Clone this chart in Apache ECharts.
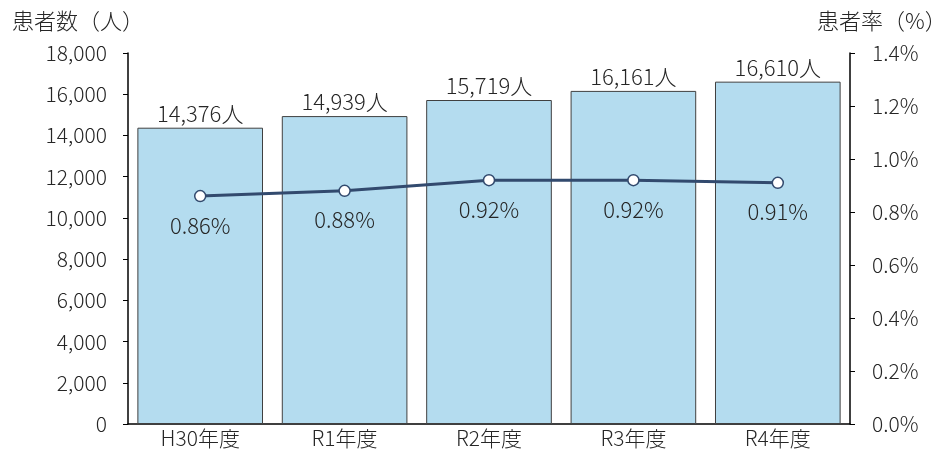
<!DOCTYPE html>
<html>
<head>
<meta charset="utf-8">
<script src="https://cdn.jsdelivr.net/npm/echarts@6/dist/echarts.min.js"></script>
<style>
  html, body { margin: 0; padding: 0; background: #fff; }
  #main { width: 949px; height: 454px; }
</style>
</head>
<body>
<div id="main"></div>
<script>
// 年度ごとの患者数と患者率
var categories = ['H30年度', 'R1年度', 'R2年度', 'R3年度', 'R4年度']
var patients = [14376, 14939, 15719, 16161, 16610]
var rates = [0.86, 0.88, 0.92, 0.92, 0.91]

var font = '"Noto Sans CJK JP", "Noto Sans", sans-serif'
var textColor = '#262626'
var fs = 21
var fw = 300

var myChart = echarts.init(document.getElementById('main'))
myChart.setOption({
  animation: false,
  textStyle: { fontFamily: font },
  grid: { left: 128, right: 99, top: 53, bottom: 30, outerBoundsMode: 'none', containLabel: false },
  xAxis: {
    type: 'category',
    data: categories,
    axisLine: { lineStyle: { color: '#000', width: 1.5 } },
    axisTick: { show: false },
    axisLabel: { color: textColor, fontSize: fs, fontWeight: fw, fontFamily: font, margin: 4 }
  },
  yAxis: [
    {
      type: 'value',
      name: '患者数（人）',
      nameLocation: 'end',
      nameGap: 21,
      nameTextStyle: { color: textColor, fontSize: 22, fontWeight: fw, fontFamily: font, align: 'left', padding: [0, 0, 0, -116] },
      min: 0,
      max: 18000,
      interval: 2000,
      splitLine: { show: false },
      axisLine: { show: true, lineStyle: { color: '#000', width: 1.5 } },
      axisTick: { show: true, length: 5, lineStyle: { color: '#000' } },
      axisLabel: {
        color: textColor, fontSize: fs, fontWeight: fw, fontFamily: font, margin: 21,
        formatter: function (v) { return v.toLocaleString('en-US') }
      }
    },
    {
      type: 'value',
      name: '患者率（%）',
      nameLocation: 'end',
      nameGap: 21,
      nameTextStyle: { color: textColor, fontSize: 22, fontWeight: fw, fontFamily: font, align: 'left', padding: [0, 0, 0, -33] },
      min: 0,
      max: 1.4,
      interval: 0.2,
      splitLine: { show: false },
      axisLine: { show: true, lineStyle: { color: '#000', width: 1.5 } },
      axisTick: { show: true, length: 5, lineStyle: { color: '#000' } },
      axisLabel: {
        color: textColor, fontSize: fs, fontWeight: fw, fontFamily: font, margin: 22,
        formatter: function (v) { return v.toFixed(1) + '%' }
      }
    }
  ],
  series: [
    {
      name: '患者数',
      type: 'bar',
      data: patients,
      barCategoryGap: '13%',
      itemStyle: { color: '#B4DCEF', borderColor: '#404040', borderWidth: 1 },
      label: {
        show: true, position: 'top', distance: 3,
        color: textColor, fontSize: 22, fontWeight: fw, fontFamily: font,
        formatter: function (p) { return p.value.toLocaleString('en-US') + '人' }
      }
    },
    {
      name: '患者率',
      type: 'line',
      yAxisIndex: 1,
      data: rates,
      symbol: 'circle',
      symbolSize: 11,
      lineStyle: { color: '#324A6E', width: 3 },
      itemStyle: { color: '#fff', borderColor: '#324A6E', borderWidth: 1.5 },
      label: {
        show: true, position: 'bottom', distance: 12,
        color: textColor, fontSize: 22, fontWeight: fw, fontFamily: font,
        formatter: function (p) { return p.value.toFixed(2) + '%' }
      },
      z: 5
    }
  ]
})
</script>
</body>
</html>
